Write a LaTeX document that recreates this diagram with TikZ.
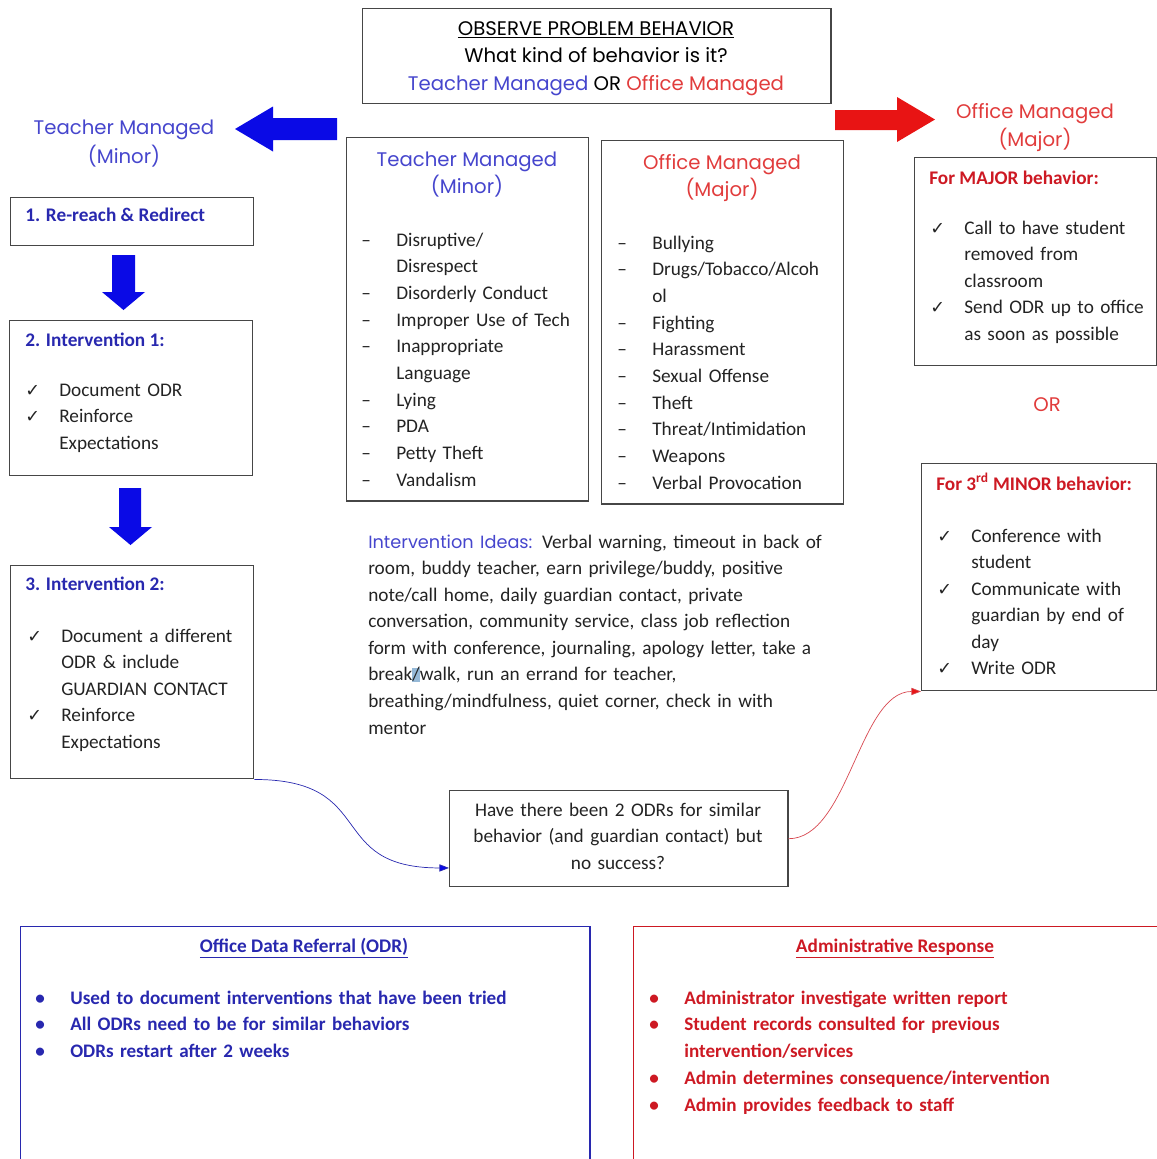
\documentclass[tikz,border=0pt]{standalone}
\usepackage{fontspec}
\setmainfont{Carlito}
\newfontfamily\handfont{Poppins}
\newfontfamily\symfont{DejaVu Sans}
\usetikzlibrary{positioning,calc,arrows.meta}
\definecolor{inkgray}{RGB}{35,35,35}
\definecolor{framegray}{RGB}{70,70,70}
\definecolor{stepblue}{RGB}{40,40,175}
\definecolor{handblue}{RGB}{70,70,205}
\definecolor{handred}{RGB}{225,60,60}
\definecolor{majorred}{RGB}{205,25,35}
\definecolor{arrowblue}{RGB}{10,10,230}
\definecolor{arrowred}{RGB}{232,20,20}
\definecolor{hlblue}{RGB}{150,185,215}

% list markers
\newcommand{\dashitem}{\makebox[8.75mm][l]{–}}
\newcommand{\dashgap}{\hspace*{8.75mm}}
\newcommand{\chk}{\makebox[8.5mm][l]{\symfont\fontsize{12.5}{12.5}\selectfont ✓}}
\newcommand{\chkgap}{\hspace*{8.5mm}}
\newcommand{\bul}{\makebox[8.75mm][l]{•}}

\begin{document}
\begin{tikzpicture}[x=0.025cm,y=-0.025cm,
  box/.style={draw=framegray,line width=1pt,anchor=north west,inner sep=0pt},
  body/.style={font=\fontsize{13.7}{18.9}\selectfont,text=inkgray,anchor=base west,
               inner sep=0pt,align=left,text width=#1},
  body/.default=70mm,
  hand/.style={font=\handfont\fontsize{14}{20}\selectfont,inner sep=0pt,anchor=base},
  stephead/.style={font=\bfseries\fontsize{13.7}{18.9}\selectfont,text=stepblue,
                   inner sep=0pt,anchor=base west},
  flow/.style={line width=0.5pt}]
  \useasboundingbox (0,0) rectangle (1157,1159);

  % top question
  \node[box,minimum width=117mm,minimum height=23.75mm] (obs) at (362,8) {};
  \node[hand] (obst) at (596,35) {\underline{OBSERVE PROBLEM BEHAVIOR}};
  \node[hand] (obsq) at (596,62) {What kind of behavior is it?};
  \node[hand] (obsc) at (596,90) {{\color{handblue}Teacher Managed} OR {\color{handred}Office Managed}};

  % fat arrows
  \fill[arrowblue] (235,129) -- (273,106.5) -- (273,118) -- (337,118) -- (337,140)
    -- (273,140) -- (273,151.5) -- cycle;
  \fill[arrowred] (935,119.5) -- (897,97) -- (897,110) -- (835,110) -- (835,130)
    -- (897,130) -- (897,142) -- cycle;
  \node[hand,text=handblue] (tmlab) at (124,134) {Teacher Managed};
  \node[hand,text=handblue] (tmlab2) at (124,163) {(Minor)};
  \node[hand,text=handred] (omlab) at (1035,118) {Office Managed};
  \node[hand,text=handred] (omlab2) at (1035,146) {(Major)};

  % teacher managed steps
  \node[box,minimum width=60.75mm,minimum height=12mm] (s1) at (10,197) {};
  \node[stephead] (s1t) at (25,221) {1. Re-reach \& Redirect};
  \fill[arrowblue] (123.5,310) -- (102,292) -- (112,292) -- (112,255) -- (135,255)
    -- (135,292) -- (145,292) -- cycle;
  \node[box,minimum width=60.75mm,minimum height=38.75mm] (s2) at (9,320) {};
  \node[stephead] (s2t) at (25,346) {2. Intervention 1:};
  \node[body] (s2l) at (25,396) {\chk Document ODR\\ \chk Reinforce\\ \chkgap Expectations};
  \fill[arrowblue] (130.5,545) -- (109,527) -- (119,527) -- (119,488) -- (141,488)
    -- (141,527) -- (152,527) -- cycle;
  \node[box,minimum width=60.75mm,minimum height=53.25mm] (s3) at (10,565) {};
  \node[stephead] (s3t) at (25,590) {3. Intervention 2:};
  \node[body] (s3l) at (27,642) {\chk Document a different\\ \chkgap ODR \& include\\
    \chkgap GUARDIAN CONTACT\\ \chk Reinforce\\ \chkgap Expectations};

  % behaviour lists
  \node[box,minimum width=60.5mm,minimum height=90.75mm] (tm) at (346,137) {};
  \node[hand,text=handblue] (tmt) at (467,166) {Teacher Managed};
  \node[hand,text=handblue] (tmt2) at (467,193) {(Minor)};
  \node[body,font=\fontsize{13.7}{18.97}\selectfont] (tml) at (361,246) {\dashitem Disruptive/\\
    \dashgap Disrespect\\ \dashitem Disorderly Conduct\\ \dashitem Improper Use of Tech\\
    \dashitem Inappropriate\\ \dashgap Language\\ \dashitem Lying\\ \dashitem PDA\\
    \dashitem Petty Theft\\ \dashitem Vandalism};
  \node[box,minimum width=60.5mm,minimum height=90.75mm] (om) at (601,140) {};
  \node[hand,text=handred] (omt) at (722,169) {Office Managed};
  \node[hand,text=handred] (omt2) at (722,196) {(Major)};
  \node[body,font=\fontsize{13.7}{18.97}\selectfont] (oml) at (617,249) {\dashitem Bullying\\
    \dashitem Drugs/Tobacco/Alcoh\\ \dashgap ol\\ \dashitem Fighting\\ \dashitem Harassment\\
    \dashitem Sexual Offense\\ \dashitem Theft\\ \dashitem Threat/Intimidation\\
    \dashitem Weapons\\ \dashitem Verbal Provocation};

  % office managed actions
  \node[box,minimum width=60.5mm,minimum height=52mm] (major) at (914,157) {};
  \node[stephead,text=majorred] (majt) at (929,184) {For MAJOR behavior:};
  \node[body] (majl) at (930,234) {\chk Call to have student\\ \chkgap removed from\\
    \chkgap classroom\\ \chk Send ODR up to office\\ \chkgap as soon as possible};
  \node[hand,text=handred] (orl) at (1047,411) {OR};
  \node[box,minimum width=58.75mm,minimum height=56.75mm] (minor) at (921,463) {};
  \node[stephead,text=majorred] (mint) at (936,490) {For 3\textsuperscript{rd} MINOR behavior:};
  \node[body] (minl) at (937,542) {\chk Conference with\\ \chkgap student\\
    \chk Communicate with\\ \chkgap guardian by end of\\ \chkgap day\\ \chk Write ODR};

  % ideas
  \node[body=120mm] (ideas) at (368,548) {{\handfont\fontsize{12.6}{18.9}\selectfont\color{handblue}Intervention Ideas:}
    Verbal warning, timeout in back of\\ room, buddy teacher, earn privilege/buddy, positive\\
    note/call home, daily guardian contact, private\\
    conversation, community service, class job reflection\\
    form with conference, journaling, apology letter, take a\\
    break{\setlength{\fboxsep}{0pt}\colorbox{hlblue}{/}}walk, run an errand for teacher,\\
    breathing/mindfulness, quiet corner, check in with\\ mentor};

  % question
  \node[box,minimum width=84.5mm,minimum height=24mm] (q) at (449,790) {};
  \node[body=84mm,align=center,anchor=base] (qt) at (618,816) {Have there been 2 ODRs for similar\\
    behavior (and guardian contact) but\\ no success?};
  \coordinate (qin) at ($(q.south west)!0.2!(q.north west)$);
  \draw[flow,draw=stepblue,-{Triangle[length=2.4mm,width=1.8mm,fill=arrowblue]}]
    (s3.south east) .. controls ($(s3.south east)+(125,0)$) and ($(qin)+(-125,0)$) .. (qin);
  \draw[flow,draw=majorred!80,-{Triangle[length=2.4mm,width=1.8mm,fill=arrowred]}]
    (q.east) .. controls ($(q.east)+(60,0)$) and ($(minor.south west)+(-62,0)$) .. (minor.south west);

  % bottom panels
  \node[box,draw=stepblue,minimum width=142.25mm,minimum height=70mm] (odr) at (20,926) {};
  \node[stephead,anchor=base] (odrt) at (304,952) {\underline{Office Data Referral (ODR)}};
  \node[body=140mm,font=\bfseries\fontsize{13.6}{19.1}\selectfont,text=stepblue] (odrl) at (35,1004)
    {\bul Used to document interventions that have been tried\\
     \bul All ODRs need to be for similar behaviors\\ \bul ODRs restart after 2 weeks};
  \node[box,draw=majorred,minimum width=135mm,minimum height=70mm] (admin) at (633,926) {};
  \node[stephead,text=majorred,anchor=base] (admint) at (895,952) {\underline{Administrative Response}};
  \node[body=130mm,font=\bfseries\fontsize{13.6}{19.1}\selectfont,text=majorred] (adminl) at (649,1004)
    {\bul Administrator investigate written report\\
     \bul Student records consulted for previous\\ \makebox[8.75mm]{}intervention/services\\
     \bul Admin determines consequence/intervention\\ \bul Admin provides feedback to staff};
\end{tikzpicture}
\end{document}
